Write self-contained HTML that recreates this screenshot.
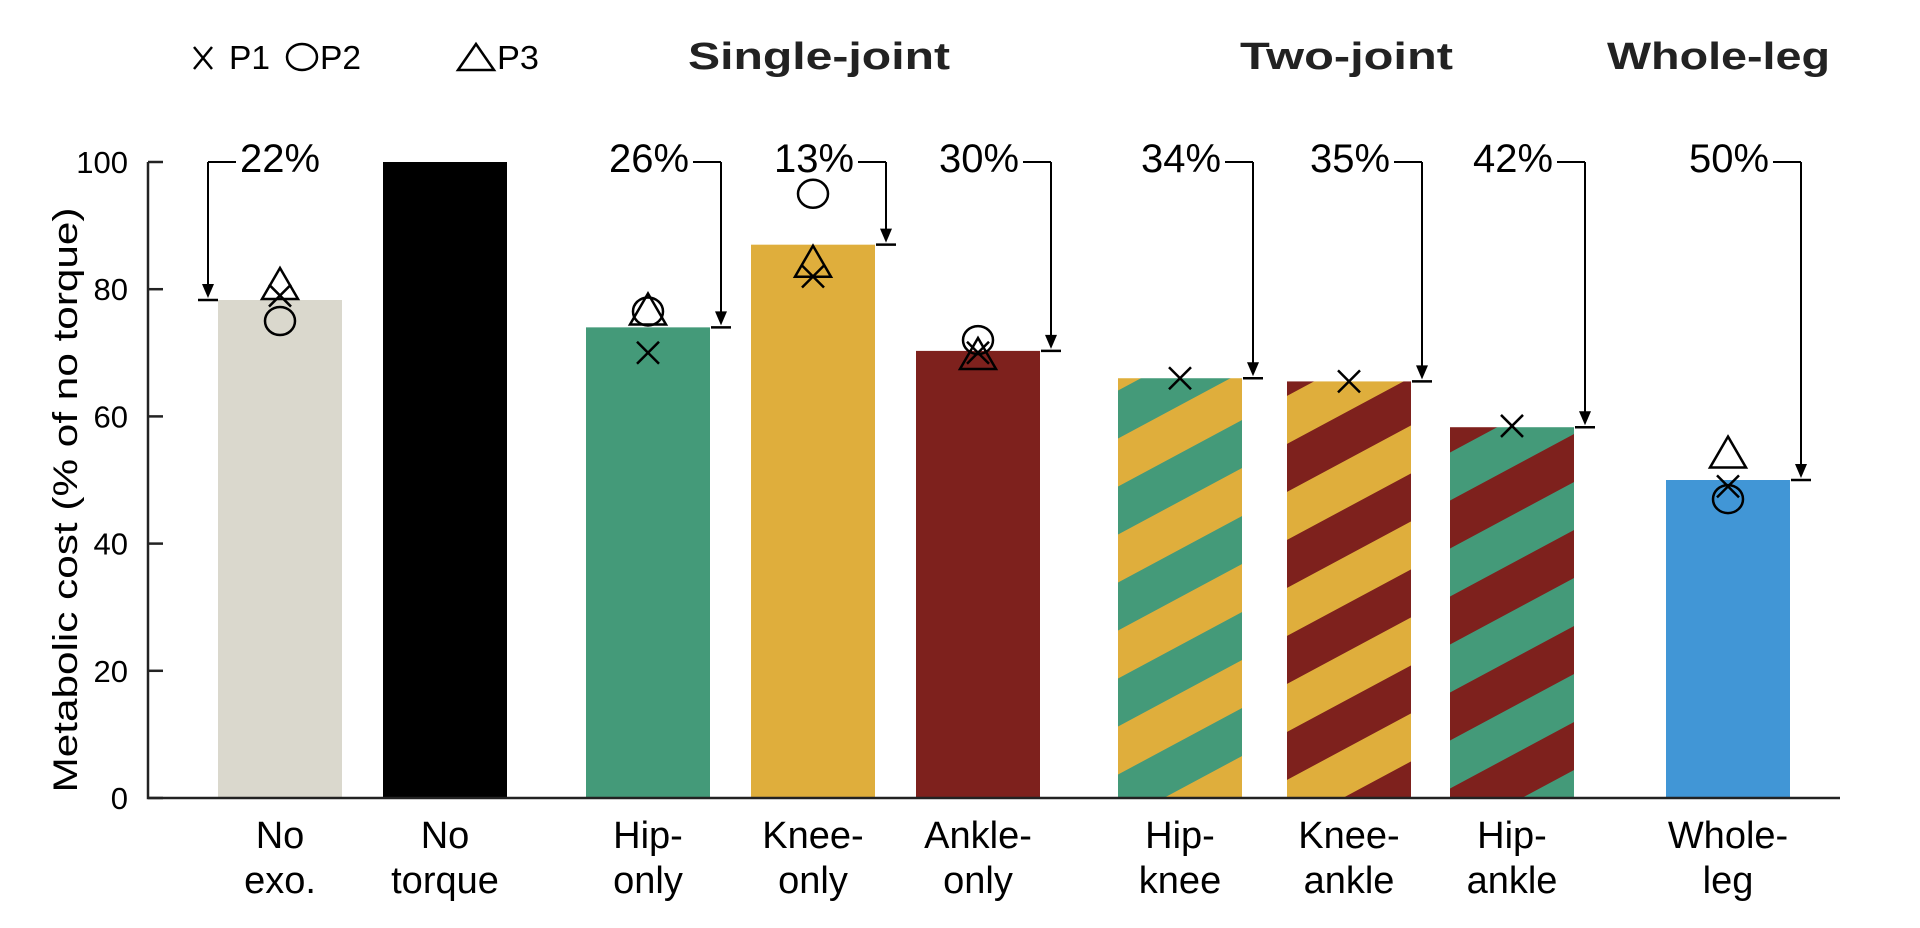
<!DOCTYPE html>
<html><head><meta charset="utf-8"><style>
html,body{margin:0;padding:0;background:#fff;}
svg{display:block;font-family:"Liberation Sans",sans-serif;}
</style></head><body>
<svg id="chart" width="1920" height="928" viewBox="0 0 1920 928" xmlns="http://www.w3.org/2000/svg">
<defs>
<pattern id="pat-hk" patternUnits="userSpaceOnUse" width="200" height="96" patternTransform="translate(0,798) skewY(-28.2)">
<rect width="200" height="48" fill="#449a79"/><rect y="48" width="200" height="48" fill="#dfae3c"/></pattern>
<pattern id="pat-ka" patternUnits="userSpaceOnUse" width="200" height="96" patternTransform="translate(0,798) skewY(-28.2)">
<rect width="200" height="48" fill="#dfae3c"/><rect y="48" width="200" height="48" fill="#7e211d"/></pattern>
<pattern id="pat-ha" patternUnits="userSpaceOnUse" width="200" height="96" patternTransform="translate(0,798) skewY(-28.2)">
<rect width="200" height="48" fill="#7e211d"/><rect y="48" width="200" height="48" fill="#449a79"/></pattern>
</defs>
<g id="legend">
<g><path d="M194 47 L212 69 M212 47 L194 69" stroke="#000" stroke-width="2.5"/><text x="229" y="69" font-size="33" textLength="41" lengthAdjust="spacingAndGlyphs">P1</text></g>
<g><ellipse cx="302" cy="57" rx="15" ry="13" fill="none" stroke="#000" stroke-width="2.5"/><text x="320" y="69" font-size="33" textLength="41" lengthAdjust="spacingAndGlyphs">P2</text></g>
<g><path d="M476 44 L494 70 L458 70 Z" fill="none" stroke="#000" stroke-width="2.5"/><text x="497" y="69" font-size="33" textLength="42" lengthAdjust="spacingAndGlyphs">P3</text></g>
</g>
<text x="688" y="69" font-size="38" font-weight="bold" fill="#222" textLength="262" lengthAdjust="spacingAndGlyphs">Single-joint</text>
<text x="1240" y="69" font-size="38" font-weight="bold" fill="#222" textLength="213" lengthAdjust="spacingAndGlyphs">Two-joint</text>
<text x="1607" y="69" font-size="38" font-weight="bold" fill="#222" textLength="223" lengthAdjust="spacingAndGlyphs">Whole-leg</text>
<text transform="translate(77,500) rotate(-90)" text-anchor="middle" font-size="34" textLength="585" lengthAdjust="spacingAndGlyphs">Metabolic cost (% of no torque)</text>
<g id="plot"></g>
</svg>
<script>
const categories = [["No","exo."],["No","torque"],["Hip-","only"],["Knee-","only"],["Ankle-","only"],["Hip-","knee"],["Knee-","ankle"],["Hip-","ankle"],["Whole-","leg"]];
const means = [78.3, 100, 74, 87, 70.3, 66, 65.5, 58.3, 50];
const p1Values = [79, null, 70, 82, 70, 66, 65.5, 58.5, 49];
const p2Values = [75, null, 76.5, 95, 72, null, null, null, 47];
const p3Values = [80.5, null, 76.5, 84, 69.5, null, null, null, 54];
const savingLabels = ["22%", null, "26%", "13%", "30%", "34%", "35%", "42%", "50%"];
const yTicks = [0, 20, 40, 60, 80, 100];

const NS = "http://www.w3.org/2000/svg";
const centers = [280, 445, 648, 813, 978, 1180, 1349, 1512, 1728];
const fills = ["#dad8cd", "#000000", "#449a79", "#dfae3c", "#7e211d", "url(#pat-hk)", "url(#pat-ka)", "url(#pat-ha)", "#4196d6"];
const barW = 124;
const y0 = 798, yTop = 162;
function yScale(v){ return y0 - (v/100)*(y0 - yTop); }
function xScale(i){ return centers[i]; }
const plot = document.getElementById('plot');
function mk(tag, attrs, parent){ const e = document.createElementNS(NS, tag); for (const k in attrs) e.setAttribute(k, attrs[k]); (parent||plot).appendChild(e); return e; }

// bars
means.forEach((v,i)=>{
  const r = mk('rect', {x: xScale(i)-barW/2, y: yScale(v), width: barW, height: y0 - yScale(v), fill: fills[i]});
  
  
});

// axes
const ax = mk('path', {d: `M148 ${yTop} V${y0} H1840`, stroke: "#222", "stroke-width": 2.5, fill: "none"});


yTicks.forEach(t=>{
  const y = yScale(t);
  const tk = mk('path', {d:`M148 ${y} H163`, stroke:"#222", "stroke-width":2.5});
  
  
  const tl = mk('text', {x:128, y: y+11, "text-anchor":"end", "font-size":31});
  tl.textContent = t;
  
  
});

// category labels
categories.forEach((c,i)=>{
  c.forEach((line,j)=>{
    const t = mk('text', {x: xScale(i), y: 848 + j*45, "text-anchor":"middle", "font-size":38});
    t.textContent = line;
    
    
  });
});

// markers
function cross(cx, cy){ const p = mk('path', {d:`M${cx-11} ${cy-11} L${cx+11} ${cy+11} M${cx+11} ${cy-11} L${cx-11} ${cy+11}`, stroke:"#000", "stroke-width":2.5, fill:"none"}); return p; }
p1Values.forEach((v,i)=>{ if(v==null) return; const m = cross(xScale(i), yScale(v));
  
   });
p2Values.forEach((v,i)=>{ if(v==null) return; const m = mk('ellipse', {cx:xScale(i), cy:yScale(v), rx:15, ry:14, fill:"none", stroke:"#000", "stroke-width":2.5});
  
   });
p3Values.forEach((v,i)=>{ if(v==null) return; const cx=xScale(i), cy=yScale(v);
  const m = mk('path', {d:`M${cx} ${cy-18} L${cx+18} ${cy+13} L${cx-18} ${cy+13} Z`, fill:"none", stroke:"#000", "stroke-width":2.5});
  
   });

// saving annotations
savingLabels.forEach((lab,i)=>{
  if(lab==null) return;
  const by = yScale(means[i]);
  const g = mk('g', {});
  
  
  let vx, tx, anchor, hx0, hx1;
  if(i===0){ vx = xScale(i)-barW/2-10; tx = vx+32; anchor="start"; hx0=vx; hx1=vx+28; }
  else { vx = xScale(i)+barW/2+11; tx = vx-32; anchor="end"; hx0=vx-28; hx1=vx; }
  mk('path', {d:`M${hx0} ${yTop} H${hx1} M${vx} ${yTop} V${by-14}`, stroke:"#000", "stroke-width":2, fill:"none"}, g);
  mk('path', {d:`M${vx-6} ${by-16} L${vx+6} ${by-16} L${vx} ${by-2} Z`, fill:"#000"}, g);
  mk('path', {d:`M${vx-10} ${by} H${vx+10}`, stroke:"#000", "stroke-width":2.5}, g);
  const t = mk('text', {x: tx, y: yTop+10, "text-anchor":anchor, "font-size":40, textLength:80, lengthAdjust:"spacingAndGlyphs"}, g);
  t.textContent = lab;
  
  
});
</script>
</body></html>
